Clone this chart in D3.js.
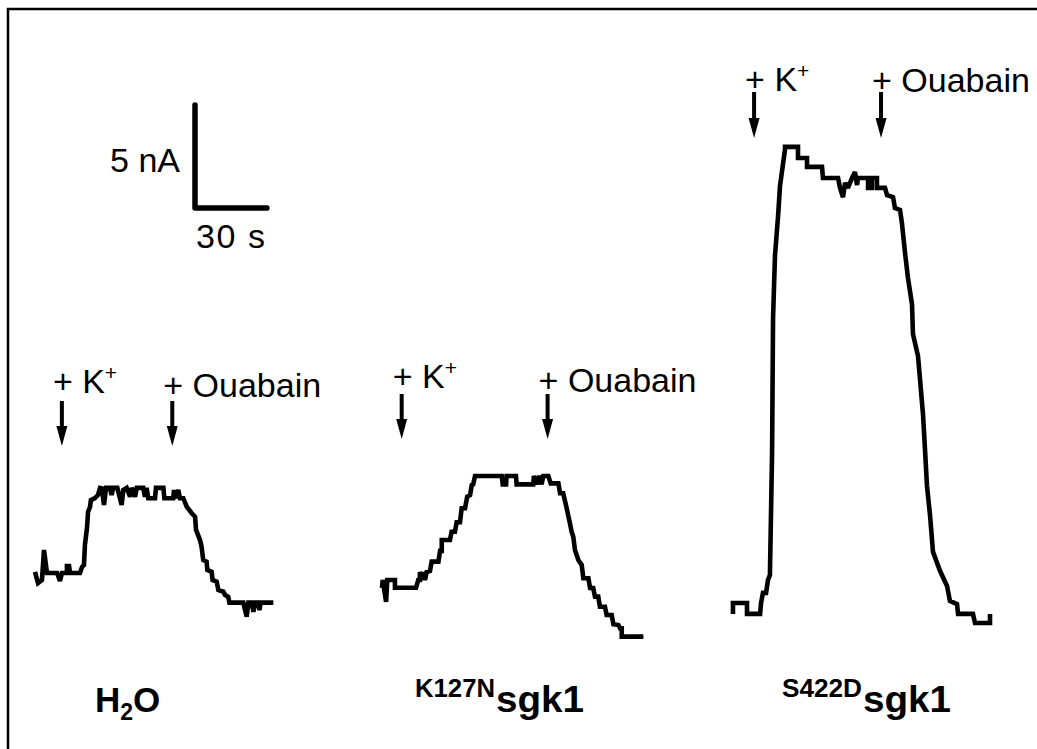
<!DOCTYPE html>
<html><head><meta charset="utf-8">
<script src="https://cdn.jsdelivr.net/npm/d3@7"></script>
<style>body{margin:0;background:#fff}svg{display:block}</style>
</head><body>
<svg id="c" width="1037" height="749"></svg>
<script>
// ---- data: time (s) and current (nA) relative to each trace start ----
const h2oTime = [0,1.25,2.9,3.75,5,9.2,10.4,11.25,13.3,13.3,14.2,14.6,18.75,19.6,20.4,20.8,21.7,22.1,22.9,23.3,25,26.25,27.1,27.8,28.75,29.6,31.25,31.9,32.6,34.3,36.1,36.8,38.2,39.6,40.3,41.7,42.4,45.1,45.8,46.5,47.2,50,50.4,53.5,53.9,57.6,57.9,58.75,59.7,60.4,61.8,63.2,65.3,66.7,67.1,68.75,69.4,70.1,71.5,71.8,73.6,74,75.7,76.4,78.5,79.2,80.5,81,86.8,88.2,88.9,90.3,91,91.7,93,93.5,94,99.3];
const h2oCurrent = [0.05,-0.49,-0.34,1.12,0,0,-0.39,0,0,0.34,0.34,0,0,0.29,0.39,1.36,2.23,2.96,3.2,3.54,3.64,3.79,4.13,4.11,3.3,4.13,4.13,3.79,4.13,4.13,3.3,4.03,4.13,3.7,4.13,3.7,4.13,4.13,3.7,4.13,3.63,3.63,4.13,4.13,3.63,3.63,4.03,3.63,4.03,3.63,3.63,3.22,2.9,2.73,2.09,1.6,1.28,0.63,0.55,0.15,0.06,-0.34,-0.42,-0.83,-0.91,-1.07,-1.15,-1.44,-1.44,-2.12,-1.44,-1.44,-1.88,-1.44,-1.44,-1.8,-1.44,-1.44];

const k127nTime = [0,0.3,1.7,2.2,5.4,5.4,14.2,15.1,15.8,15.8,16.7,17.1,17.9,18.6,20,20.7,23.5,24.2,24.9,24.9,28.3,29,30.4,31.1,32.5,33.2,34.6,35.5,36.7,37.4,38,38.75,49.9,50.3,51.7,51.9,55.8,56.1,63,63.3,64.4,65.5,66.5,67.2,69.3,70.3,73.5,74.2,75.5,76.95,78.3,79,79.7,80.4,81.8,83.2,83.9,86,86.7,88,88.75,90.1,90.8,92.9,93.6,95.7,96.4,98.5,99.2,99.9,99.9,108.9];
const k127nCurrent = [0,0.39,-0.67,0.39,0.39,0.01,0.01,0.39,0.39,0.78,0.39,0.78,0.39,0.78,0.83,1.28,1.28,1.8,1.8,2.33,2.33,2.73,2.73,3.19,3.19,3.87,3.87,4.43,4.51,5.0,5.03,5.44,5.44,5.03,5.03,5.44,5.44,5.03,5.03,5.44,5.03,5.44,5.03,5.44,5.44,5.08,5.08,4.6,4.6,3.87,3.14,2.73,2.49,1.84,1.36,1.12,0.47,0.47,0,0,-0.42,-0.42,-0.91,-0.91,-1.31,-1.31,-1.76,-1.8,-1.96,-1.96,-2.36,-2.36];

const s422dTime = [0.4,0.4,6.25,6.25,11.7,12.1,12.9,14.2,15,15.8,16.7,17.1,17.9,19.2,20,22.1,22.1,27.5,27.5,31.25,31.25,37.5,37.9,44.2,45,46.25,47.1,48.3,50,51.25,52.1,52.5,56.7,56.7,58.3,58.3,60.4,60.4,63.75,64.6,67.1,67.9,70,70.8,72.1,73.3,75,75.4,77.5,78.3,79.6,80.4,81.25,82.5,83.75,86.7,89.6,90.8,93.75,94.2,100.4,101.25,107.5,107.5];
const s422dCurrent = [-0.53,0,0,-0.53,-0.53,0,0.49,0.49,1.12,1.36,7.28,13.8,16.84,18.79,20.24,22.04,22.14,22.14,21.6,21.6,21.17,21.17,20.63,20.63,20.15,19.7,20.4,20.15,20.63,20.92,20.29,20.63,20.63,20.15,20.15,20.63,20.63,20.15,20.15,19.8,19.7,19.17,19.08,18.45,16.99,15.8,14.5,13.06,11.99,10.92,9.13,7.48,5.68,4.27,2.48,1.55,0.83,0.1,-0.05,-0.53,-0.53,-0.97,-0.97,-0.53];

// addition times (s) for "+ K+" and "+ Ouabain"
const h2oEvents = [11.2, 57.2];
const k127nEvents = [8.2, 69];
const s422dEvents = [9.2, 62.1];

const scaleBarTime = 30;     // s
const scaleBarCurrent = 5;   // nA
const scaleBarLabels = ["5 nA", "30 s"];
const eventLabels = ["+ K", "+ Ouabain"];
const constructLabels = [
  {pre:"H", sub:"2", post:"O", sup:""},
  {pre:"", sub:"", post:"sgk1", sup:"K127N"},
  {pre:"", sub:"", post:"sgk1", sup:"S422D"}
];

// ---- layout ----
const svg = d3.select("#c");
const FONT = "'Liberation Sans', Arial, Helvetica, sans-serif";
const x = d3.scaleLinear().domain([0, 30]).range([0, 72]);     // 2.4 px / s
const y = d3.scaleLinear().domain([0, 5]).range([0, -103]);    // 20.6 px / nA

// frame (top & left)
svg.append("path").attr("d","M8,749 L8,9 L1037,9").attr("fill","none")
  .attr("stroke","#000").attr("stroke-width",2.5);

// scale bar
const sb = svg.append("g").attr("transform","translate(195,208)");
sb.append("path")
  .attr("d", `M0,${y(scaleBarCurrent)} L0,0 L${x(scaleBarTime)},0`)
  .attr("fill","none").attr("stroke","#000").attr("stroke-width",5.5)
  .attr("stroke-linecap","round").attr("stroke-linejoin","round");
sb.append("text").attr("x",-85).attr("y",-36)
  .attr("font-family",FONT).attr("font-size",34).attr("textLength",70).text(scaleBarLabels[0]);
sb.append("text").attr("x",1).attr("y",40)
  .attr("font-family",FONT).attr("font-size",34).attr("textLength",69).text(scaleBarLabels[1]);

const panels = [
  {t:h2oTime, c:h2oCurrent, ev:h2oEvents, ox:35, oy:573, arrowTop:401, arrowTip:446, labY:[393,397], lab:constructLabels[0], labX:95},
  {t:k127nTime, c:k127nCurrent, ev:k127nEvents, ox:382, oy:588, arrowTop:394, arrowTip:439, labY:[388,392], lab:constructLabels[1], labX:415},
  {t:s422dTime, c:s422dCurrent, ev:s422dEvents, ox:732, oy:603, arrowTop:92, arrowTip:138, labY:[91,92], lab:constructLabels[2], labX:782}
];

const line = d3.line().x(d => x(d[0])).y(d => y(d[1]));

panels.forEach(p => {
  const g = svg.append("g").attr("transform",`translate(${p.ox},${p.oy})`);
  g.append("path").datum(d3.zip(p.t, p.c)).attr("d", line)
    .attr("fill","none").attr("stroke","#000").attr("stroke-width",4.6)
    .attr("stroke-linejoin","miter").attr("stroke-miterlimit",2);

  p.ev.forEach((tv, i) => {
    const ax = p.ox + x(tv);
    const a = svg.append("g");
    a.append("line").attr("x1",ax).attr("x2",ax).attr("y1",p.arrowTop).attr("y2",p.arrowTip-14)
      .attr("stroke","#000").attr("stroke-width",4);
    a.append("path").attr("d",`M${ax-5.5},${p.arrowTip-20} L${ax+5.5},${p.arrowTip-20} L${ax},${p.arrowTip} Z`)
      .attr("fill","#000");
    const t = svg.append("text").attr("font-family",FONT).attr("font-size",34)
      .attr("x", ax - 9).attr("y", p.labY[i]);
    if (i === 0) {
      t.append("tspan").text(eventLabels[0]);
      t.append("tspan").attr("font-size",21).attr("dy",-13).text("+");
    } else {
      t.text(eventLabels[1]);
    }
  });

  if (p.lab.sup) {
    svg.append("text").attr("font-family",FONT).attr("font-weight","bold")
      .attr("font-size",25).attr("x",p.labX).attr("y",697)
      .attr("textLength",80).attr("lengthAdjust","spacingAndGlyphs").text(p.lab.sup);
    svg.append("text").attr("font-family",FONT).attr("font-weight","bold")
      .attr("font-size",36).attr("x",p.labX+81).attr("y",712)
      .attr("textLength",88).attr("lengthAdjust","spacingAndGlyphs").text(p.lab.post);
  } else {
    const lt = svg.append("text").attr("font-family",FONT).attr("font-weight","bold")
      .attr("font-size",35).attr("x",p.labX).attr("y",712);
    lt.append("tspan").text(p.lab.pre);
    lt.append("tspan").attr("font-size",23).attr("dy",8).text(p.lab.sub);
    lt.append("tspan").attr("dy",-8).text(p.lab.post);
  }
});
</script>
</body></html>
